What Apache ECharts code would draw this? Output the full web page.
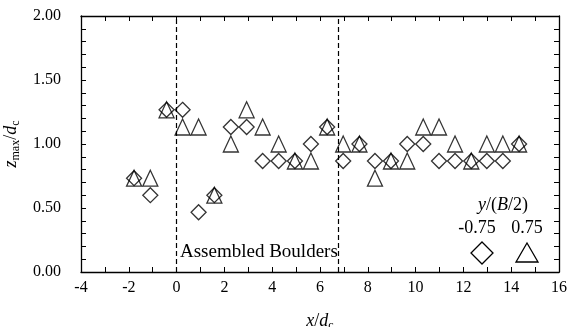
<!DOCTYPE html>
<html>
<head>
<meta charset="utf-8">
<script src="https://cdn.jsdelivr.net/npm/echarts@6/dist/echarts.min.js"></script>
<style>html,body{margin:0;padding:0;background:#fff}#c{width:568px;height:327px}</style>
</head>
<body>
<div id="c"></div>
<script>
const xPositions = [-1.78,-1.1,-0.42,0.25,0.92,1.58,2.27,2.93,3.6,4.27,4.95,5.62,6.3,6.97,7.65,8.3,8.97,9.65,10.32,10.98,11.65,12.33,12.98,13.65,14.33];
const zNeg075 = [0.733,0.6,1.267,1.267,0.467,0.6,1.133,1.133,0.867,0.867,0.867,1.0,1.133,0.867,1.0,0.867,0.867,1.0,1.0,0.867,0.867,0.867,0.867,0.867,1.0];
const zPos075 = [0.733,0.733,1.267,1.133,1.133,0.6,1.0,1.267,1.133,1.0,0.867,0.867,1.133,1.0,1.0,0.733,0.867,0.867,1.133,1.133,1.0,0.867,1.0,1.0,1.0];
const boundaryX = [0, 6.75];
const seriesNames = ['-0.75', '0.75'];
const legendTitle = 'y/(B/2)';
const regionLabel = 'Assembled Boulders';

const FONT = '"Liberation Serif", "Times New Roman", serif';
const chart = echarts.init(document.getElementById('c'), null, {renderer: 'canvas'});

function pts(ys) { return xPositions.map((x, i) => [x, ys[i]]); }

function axisBase() {
  return {
    axisLine: {show: true, onZero: false, lineStyle: {color: '#000', width: 1.3}},
    axisTick: {show: true, inside: true, length: 5, lineStyle: {color: '#000', width: 1}},
    splitLine: {show: false}
  };
}

const option = {
  animation: false,
  backgroundColor: '#fff',
  grid: {left: 81, right: 9, top: 16, bottom: 55, containLabel: false, outerBoundsMode: 'none'},
  xAxis: [
    Object.assign(axisBase(), {
      type: 'value', min: -4, max: 16, interval: 2, position: 'bottom',
      minorTick: {show: true, splitNumber: 2, length: 5, lineStyle: {color: '#000', width: 1}},
      axisLabel: {color: '#000', fontFamily: FONT, fontSize: 16, margin: 8},
      name: '{i|x}/{i|d}{s|c}', nameLocation: 'middle', nameGap: 38,
      nameTextStyle: {color: '#000', fontFamily: FONT, fontSize: 18,
        rich: {i: {fontStyle: 'italic', fontFamily: FONT, fontSize: 18, color: '#000'},
               s: {fontFamily: FONT, fontSize: 12, color: '#000', padding: [10, 0, 0, 0]}}}
    }),
    Object.assign(axisBase(), {
      type: 'value', min: -4, max: 16, interval: 2, position: 'top',
      minorTick: {show: true, splitNumber: 2, length: 5, lineStyle: {color: '#000', width: 1}},
      axisLabel: {show: false}
    })
  ],
  yAxis: [
    Object.assign(axisBase(), {
      type: 'value', min: 0, max: 2, interval: 0.5, position: 'left',
      minorTick: {show: true, splitNumber: 5, length: 5, lineStyle: {color: '#000', width: 1}},
      axisLabel: {color: '#000', fontFamily: FONT, fontSize: 16, margin: 20,
        formatter: v => v.toFixed(2)},
      name: '{i|z}{s|max}/{i|d}{s|c}', nameLocation: 'middle', nameGap: 55, nameRotate: 90,
      nameTextStyle: {color: '#000', fontFamily: FONT, fontSize: 18,
        rich: {i: {fontStyle: 'italic', fontFamily: FONT, fontSize: 18, color: '#000'},
               s: {fontFamily: FONT, fontSize: 12, color: '#000', padding: [10, 0, 0, 0]}}}
    }),
    Object.assign(axisBase(), {
      type: 'value', min: 0, max: 2, interval: 0.5, position: 'right',
      minorTick: {show: true, splitNumber: 5, length: 5, lineStyle: {color: '#000', width: 1}},
      axisLabel: {show: false}
    })
  ],
  series: [
    {
      name: seriesNames[0], type: 'scatter', symbol: 'diamond', symbolSize: [15, 15],
      data: pts(zNeg075),
      itemStyle: {color: 'rgba(0,0,0,0)', borderColor: '#000', borderWidth: 1.3},
      markLine: {
        silent: true, symbol: ['none', 'none'], label: {show: false},
        lineStyle: {color: '#000', width: 1.2, type: [5, 3]},
        data: boundaryX.map(v => ({xAxis: v}))
      },
      z: 3
    },
    {
      name: seriesNames[1], type: 'scatter', symbol: 'triangle', symbolSize: [15, 16],
      data: pts(zPos075),
      itemStyle: {color: 'rgba(0,0,0,0)', borderColor: '#000', borderWidth: 1.3},
      z: 3
    }
  ],
  graphic: [
    {type: 'text', left: 180, top: 243, style: {text: regionLabel, font: '19px ' + FONT, fill: '#000'}},
    {type: 'text', x: 503, y: 205, style: {text: '{i|y}/({i|B}/2)', align: 'center', verticalAlign: 'middle',
      font: '18px ' + FONT, fill: '#000',
      rich: {i: {fontStyle: 'italic', fontFamily: FONT, fontSize: 18, fill: '#000'}}}},
    {type: 'text', x: 477, y: 228, style: {text: seriesNames[0], align: 'center', verticalAlign: 'middle', font: '18px ' + FONT, fill: '#000'}},
    {type: 'text', x: 527, y: 228, style: {text: seriesNames[1], align: 'center', verticalAlign: 'middle', font: '18px ' + FONT, fill: '#000'}},
    {type: 'polygon', shape: {points: [[482, 242], [493, 253], [482, 264], [471, 253]]},
      style: {fill: 'none', stroke: '#000', lineWidth: 1.3}},
    {type: 'polygon', shape: {points: [[527, 243], [538, 262], [516, 262]]},
      style: {fill: 'none', stroke: '#000', lineWidth: 1.3}}
  ]
};
chart.setOption(option);
</script>
</body>
</html>
